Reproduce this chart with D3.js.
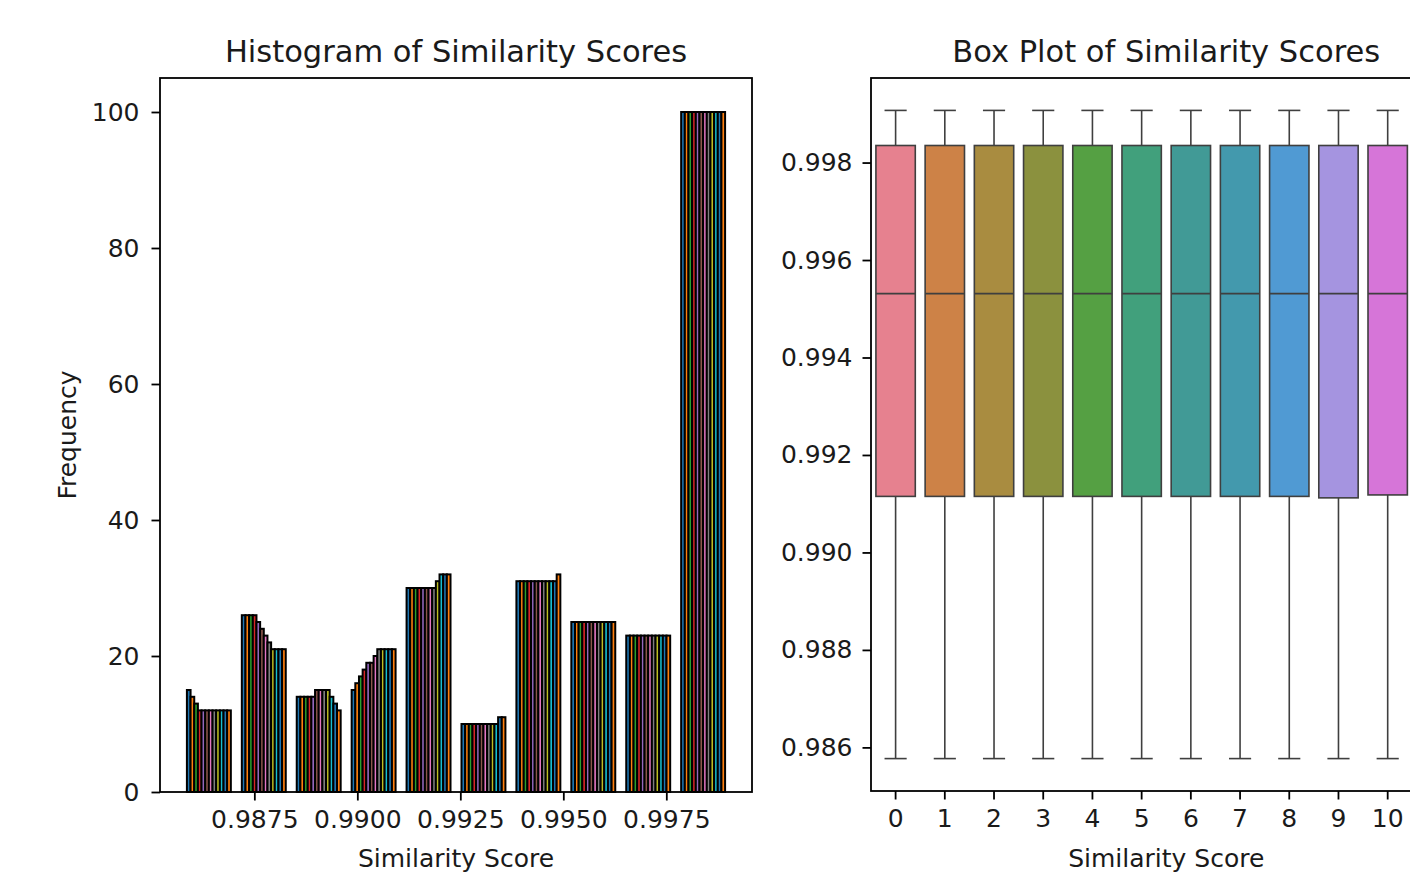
<!DOCTYPE html>
<html>
<head>
<meta charset="utf-8">
<script src="https://cdn.jsdelivr.net/npm/d3@7"></script>
<style>
  body { margin: 0; background: #fff; }
  text { font-family: "DejaVu Sans", sans-serif; fill: #1a1a1a; }
</style>
</head>
<body>
<svg id="chart" width="1410" height="879"></svg>
<script>
// histogram: 10 bins, 12 series (one bar per series in each bin)
const binEdges = [0.98573, 0.987063, 0.988396, 0.989729, 0.991062, 0.992395,
                  0.993728, 0.995061, 0.996394, 0.997727, 0.99906];
const seriesNames = ["0", "1", "2", "3", "4", "5", "6", "7", "8", "9", "10", "11"];
const binCounts = [
  [15, 14, 13, 12, 12, 12, 12, 12, 12, 12, 12, 12],
  [26, 26, 26, 26, 25, 24, 23, 22, 21, 21, 21, 21],
  [14, 14, 14, 14, 14, 15, 15, 15, 15, 14, 13, 12],
  [15, 16, 17, 18, 19, 19, 20, 21, 21, 21, 21, 21],
  [30, 30, 30, 30, 30, 30, 30, 30, 31, 32, 32, 32],
  [10, 10, 10, 10, 10, 10, 10, 10, 10, 10, 11, 11],
  [31, 31, 31, 31, 31, 31, 31, 31, 31, 31, 31, 32],
  [25, 25, 25, 25, 25, 25, 25, 25, 25, 25, 25, 25],
  [23, 23, 23, 23, 23, 23, 23, 23, 23, 23, 23, 23],
  [100, 100, 100, 100, 100, 100, 100, 100, 100, 100, 100, 100]
];
const histXTicks = [0.9875, 0.99, 0.9925, 0.995, 0.9975];
const histYTicks = [0, 20, 40, 60, 80, 100];
const tab10 = ["#1f77b4", "#ff7f0e", "#2ca02c", "#d62728", "#9467bd",
               "#8c564b", "#e377c2", "#7f7f7f", "#bcbd22", "#17becf"];

// box plot stats per column
const boxCats = seriesNames;
const whiskLow = [0.98577, 0.98577, 0.98577, 0.98577, 0.98577, 0.98577, 0.98577, 0.98577, 0.98577, 0.98577, 0.98577, 0.98577];
const boxQ1 = [0.99115, 0.99115, 0.99115, 0.99115, 0.99115, 0.99115, 0.99115, 0.99115, 0.99115, 0.99112, 0.99118, 0.99118];
const boxMed = [0.99531, 0.99531, 0.99531, 0.99531, 0.99531, 0.99531, 0.99531, 0.99531, 0.99531, 0.99531, 0.99531, 0.99531];
const boxQ3 = [0.99835, 0.99835, 0.99835, 0.99835, 0.99835, 0.99835, 0.99835, 0.99835, 0.99835, 0.99835, 0.99835, 0.99835];
const whiskHigh = [0.99907, 0.99907, 0.99907, 0.99907, 0.99907, 0.99907, 0.99907, 0.99907, 0.99907, 0.99907, 0.99907, 0.99907];
const boxYTicks = [0.986, 0.988, 0.99, 0.992, 0.994, 0.996, 0.998];
const boxColors = ["#e6818f", "#cd8247", "#a98c40", "#8b913e", "#55a043", "#41a07c",
                   "#419a96", "#4399ad", "#509ad3", "#a594e0", "#d675d8", "#e27aad"];

const svg = d3.select("#chart");
const tickFont = 25, titleFont = 30.5;
const lineCol = "#3f3f3f";

function drawFrame(g, x0, x1, y0, y1) {
  g.append("rect").attr("x", x0).attr("y", y0)
    .attr("width", x1 - x0).attr("height", y1 - y0)
    .attr("fill", "none").attr("stroke", "#000").attr("stroke-width", 1.8);
}

function styleAxis(ax) {
  ax.select(".domain").remove();
  ax.selectAll(".tick line").attr("stroke", "#000").attr("stroke-width", 1.8);
  ax.selectAll(".tick text").style("font-size", tickFont + "px")
    .style("font-family", "DejaVu Sans").attr("fill", "#1a1a1a");
}

// ---------- histogram ----------
const H = { left: 160, right: 752, top: 78, bottom: 792 };
const bw = binEdges[1] - binEdges[0];
const barsLo = binEdges[0] + 0.1 * bw;
const barsHi = binEdges[binEdges.length - 1] - 0.1 * bw;
const pad = (barsHi - barsLo) * 0.05;
const hx = d3.scaleLinear().domain([barsLo - pad, barsHi + pad]).range([H.left, H.right]);
const hy = d3.scaleLinear().domain([0, 105]).range([H.bottom, H.top]);
const barW = 0.8 * bw / seriesNames.length;

const hg = svg.append("g");
seriesNames.forEach(function (s, si) {
  hg.append("g").selectAll("rect").data(binCounts).join("rect")
    .attr("x", (d, b) => hx(binEdges[b] + 0.1 * bw + si * barW))
    .attr("width", hx(binEdges[0] + barW) - hx(binEdges[0]))
    .attr("y", d => hy(d[si]))
    .attr("height", d => hy(0) - hy(d[si]))
    .attr("fill", tab10[si % 10])
    .attr("stroke", "#000").attr("stroke-width", 2);
});
drawFrame(hg, H.left, H.right, H.top, H.bottom);

const hxAx = hg.append("g").attr("transform", `translate(0,${H.bottom})`)
  .call(d3.axisBottom(hx).tickValues(histXTicks).tickFormat(d3.format(".4f"))
    .tickSize(8.5).tickPadding(10));
styleAxis(hxAx);
const hyAx = hg.append("g").attr("transform", `translate(${H.left},0)`)
  .call(d3.axisLeft(hy).tickValues(histYTicks).tickSize(8.5).tickPadding(12));
styleAxis(hyAx);

hg.append("text").attr("x", (H.left + H.right) / 2).attr("y", 62)
  .attr("text-anchor", "middle").style("font-size", titleFont + "px")
  .text("Histogram of Similarity Scores");
hg.append("text").attr("x", (H.left + H.right) / 2).attr("y", 867)
  .attr("text-anchor", "middle").style("font-size", tickFont + "px")
  .text("Similarity Score");
hg.append("text").attr("transform", `translate(76,${(H.top + H.bottom) / 2}) rotate(-90)`)
  .attr("text-anchor", "middle").style("font-size", tickFont + "px")
  .text("Frequency");

// ---------- box plot ----------
const B = { left: 871, right: 1461.5, top: 78, bottom: 791 };
const bx = d3.scaleBand().domain(boxCats).range([B.left, B.right]).paddingInner(0).paddingOuter(0);
const yLo = d3.min(whiskLow), yHi = d3.max(whiskHigh);
const yPad = (yHi - yLo) * 0.05;
const by = d3.scaleLinear().domain([yLo - yPad, yHi + yPad]).range([B.bottom, B.top]);

const bg = svg.append("g");
const boxW = bx.bandwidth() * 0.8;
const capW = bx.bandwidth() * 0.45;
boxCats.forEach(function (c, i) {
  const cx = bx(c) + bx.bandwidth() / 2;
  const g = bg.append("g");
  // whiskers
  g.append("line").attr("x1", cx).attr("x2", cx)
    .attr("y1", by(whiskLow[i])).attr("y2", by(boxQ1[i]))
    .attr("stroke", lineCol).attr("stroke-width", 1.6);
  g.append("line").attr("x1", cx).attr("x2", cx)
    .attr("y1", by(boxQ3[i])).attr("y2", by(whiskHigh[i]))
    .attr("stroke", lineCol).attr("stroke-width", 1.6);
  // caps
  [whiskLow[i], whiskHigh[i]].forEach(function (v) {
    g.append("line").attr("x1", cx - capW / 2).attr("x2", cx + capW / 2)
      .attr("y1", by(v)).attr("y2", by(v))
      .attr("stroke", lineCol).attr("stroke-width", 1.6);
  });
  // box
  g.append("rect").attr("x", cx - boxW / 2).attr("width", boxW)
    .attr("y", by(boxQ3[i])).attr("height", by(boxQ1[i]) - by(boxQ3[i]))
    .attr("fill", boxColors[i]).attr("stroke", lineCol).attr("stroke-width", 1.6);
  // median
  g.append("line").attr("x1", cx - boxW / 2).attr("x2", cx + boxW / 2)
    .attr("y1", by(boxMed[i])).attr("y2", by(boxMed[i]))
    .attr("stroke", lineCol).attr("stroke-width", 1.6);
});
drawFrame(bg, B.left, B.right, B.top, B.bottom);

const bxAx = bg.append("g").attr("transform", `translate(0,${B.bottom})`)
  .call(d3.axisBottom(bx).tickSize(8.5).tickPadding(10));
styleAxis(bxAx);
const byAx = bg.append("g").attr("transform", `translate(${B.left},0)`)
  .call(d3.axisLeft(by).tickValues(boxYTicks).tickFormat(d3.format(".3f")).tickSize(8.5).tickPadding(10));
styleAxis(byAx);

bg.append("text").attr("x", (B.left + B.right) / 2).attr("y", 62)
  .attr("text-anchor", "middle").style("font-size", titleFont + "px")
  .text("Box Plot of Similarity Scores");
bg.append("text").attr("x", (B.left + B.right) / 2).attr("y", 867)
  .attr("text-anchor", "middle").style("font-size", tickFont + "px")
  .text("Similarity Score");
</script>
</body>
</html>
